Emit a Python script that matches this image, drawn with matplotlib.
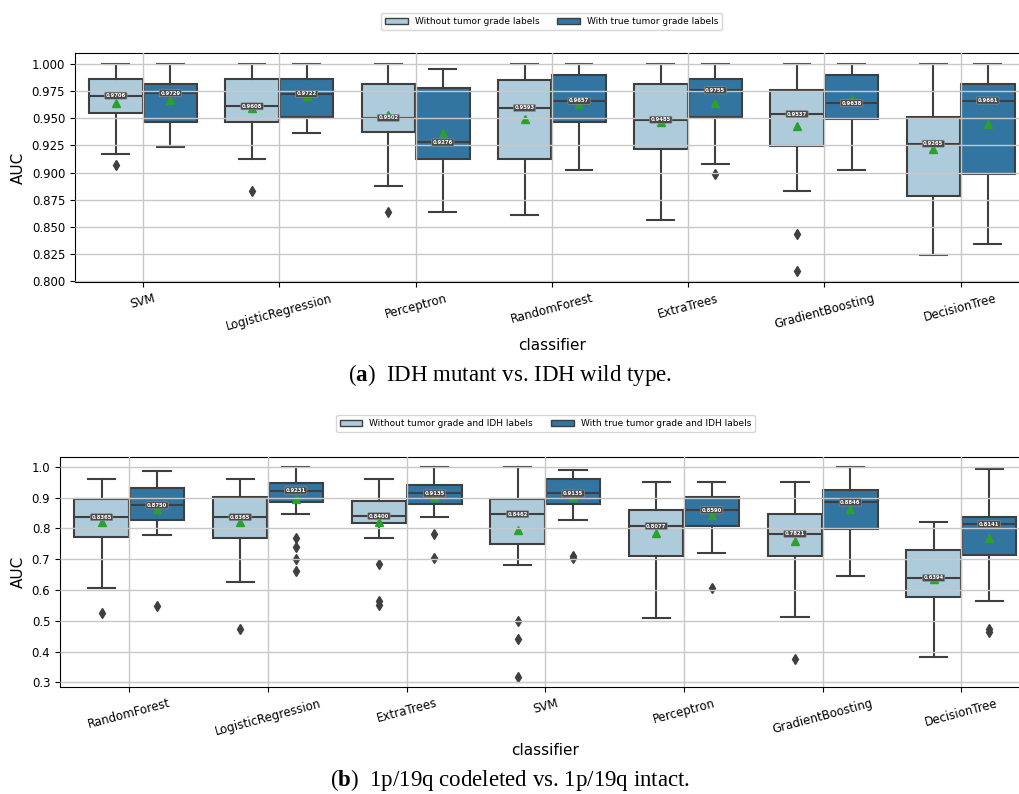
import numpy as np
import matplotlib.pyplot as plt

plt.rcParams['mathtext.fontset'] = 'custom'
plt.rcParams['mathtext.rm'] = 'Liberation Serif'
plt.rcParams['mathtext.bf'] = 'Liberation Serif:bold'

# IDH mutant vs. IDH wild type
clf_a = ['SVM', 'LogisticRegression', 'Perceptron', 'RandomForest',
         'ExtraTrees', 'GradientBoosting', 'DecisionTree']
a_without = dict(
    lo=[0.9169, 0.9122, 0.8881, 0.8613, 0.8564, 0.8829, 0.8244],
    q1=[0.9549, 0.9463, 0.9369, 0.9122, 0.9220, 0.9247, 0.8784],
    med=[0.9706, 0.9608, 0.9502, 0.9593, 0.9485, 0.9537, 0.9265],
    q3=[0.9860, 0.9863, 0.9817, 0.9850, 0.9814, 0.9756, 0.9512],
    hi=[1.0, 1.0, 1.0, 1.0, 1.0, 1.0, 1.0],
    mean=[0.9643, 0.9590, 0.9530, 0.9491, 0.9466, 0.9424, 0.9213],
    fliers=[[0.9073], [0.8829], [0.8637], [], [], [0.8439, 0.8100], []],
)
a_with = dict(
    lo=[0.9238, 0.9366, 0.8637, 0.9024, 0.9076, 0.9024, 0.8345],
    q1=[0.9463, 0.9509, 0.9122, 0.9463, 0.9512, 0.9494, 0.8991],
    med=[0.9729, 0.9722, 0.9276, 0.9657, 0.9755, 0.9638, 0.9661],
    q3=[0.9817, 0.9863, 0.9774, 0.9899, 0.9860, 0.9899, 0.9817],
    hi=[1.0, 1.0, 0.9948, 1.0, 1.0, 1.0, 1.0],
    mean=[0.9665, 0.9704, 0.9363, 0.9631, 0.9643, 0.9674, 0.9448],
    fliers=[[], [], [], [], [0.8985], [], []],
)

# 1p/19q codeleted vs. 1p/19q intact
clf_b = ['RandomForest', 'LogisticRegression', 'ExtraTrees', 'SVM',
         'Perceptron', 'GradientBoosting', 'DecisionTree']
b_without = dict(
    lo=[0.6057, 0.6273, 0.7699, 0.6802, 0.5096, 0.5128, 0.3810],
    q1=[0.7710, 0.7699, 0.8164, 0.7494, 0.7116, 0.7116, 0.5776],
    med=[0.8365, 0.8365, 0.8400, 0.8462, 0.8077, 0.7821, 0.6394],
    q3=[0.8963, 0.9028, 0.8898, 0.8941, 0.8596, 0.8455, 0.7299],
    hi=[0.9600, 0.9611, 0.9611, 1.0, 0.9514, 0.9514, 0.8218],
    mean=[0.8207, 0.8207, 0.8207, 0.7937, 0.7839, 0.7602, 0.6360],
    fliers=[[0.5268], [0.4717], [0.6856, 0.5647, 0.5517],
            [0.5009, 0.4415, 0.3184], [], [0.3756], []],
)
b_with = dict(
    lo=[0.7796, 0.8455, 0.8369, 0.8272, 0.7202, 0.6457, 0.5657],
    q1=[0.8261, 0.8844, 0.8790, 0.8790, 0.8077, 0.7991, 0.7126],
    med=[0.8750, 0.9231, 0.9135, 0.9135, 0.8590, 0.8846, 0.8141],
    q3=[0.9298, 0.9481, 0.9417, 0.9611, 0.9028, 0.9233, 0.8358],
    hi=[0.9870, 1.0, 1.0, 0.9892, 0.9514, 1.0, 0.9946],
    mean=[0.8617, 0.8940, 0.9006, 0.9028, 0.8423, 0.8639, 0.7699],
    fliers=[[0.5485], [0.7700, 0.7407, 0.6997, 0.6630], [0.7807, 0.7029],
            [0.7116, 0.7029], [0.6057], [], [0.4728, 0.4620]],
)

light = '#adcbdb'
dark = '#3275a1'
line = '#3f3f3f'


def draw_boxes(ax, stats, offset, color):
    n = len(stats['med'])
    pos = np.arange(n) + offset
    bstats = []
    for i in range(n):
        bstats.append(dict(med=stats['med'][i], q1=stats['q1'][i], q3=stats['q3'][i],
                           whislo=stats['lo'][i], whishi=stats['hi'][i],
                           mean=stats['mean'][i], fliers=stats['fliers'][i]))
    ax.bxp(bstats, positions=pos, widths=0.392, patch_artist=True,
           showmeans=True, manage_ticks=False,
           boxprops=dict(facecolor=color, edgecolor=line, linewidth=1.5),
           whiskerprops=dict(color=line, linewidth=1.5),
           capprops=dict(color=line, linewidth=1.5),
           medianprops=dict(color=line, linewidth=1.5),
           flierprops=dict(marker='d', markerfacecolor=line, markeredgecolor=line,
                           markersize=5),
           meanprops=dict(marker='^', markerfacecolor='#2ca02c',
                          markeredgecolor='#2ca02c', markersize=6))
    # median value tag on each box
    for x, m in zip(pos, stats['med']):
        ax.text(x, m, f'{m:.4f}', ha='center', va='center', fontsize=3.8,
                color='white', fontweight='bold', zorder=5,
                bbox=dict(boxstyle='round,pad=0.2', fc='#4a4a4a', ec='#9a9a9a', lw=0.4))


def panel(ax, names, without, withh, labels, leg_y):
    draw_boxes(ax, without, -0.2, light)
    draw_boxes(ax, withh, 0.2, dark)
    ax.set_xlim(-0.5, len(names) - 0.5)
    ax.set_xticks(np.arange(len(names)))
    ax.set_xticklabels(names, rotation=15, fontsize=8.5)
    ax.tick_params(axis='y', labelsize=8.5)
    ax.grid(True, color='#c8c8c8', linewidth=1)
    ax.set_axisbelow(False)
    ax.set_xlabel('classifier', fontsize=11)
    ax.set_ylabel('AUC', fontsize=11)
    handles = [plt.Rectangle((0, 0), 1, 1, fc=light, ec=line, lw=1),
               plt.Rectangle((0, 0), 1, 1, fc=dark, ec=line, lw=1)]
    ax.legend(handles, labels, loc='center', bbox_to_anchor=(0.5, leg_y), ncol=2,
              fontsize=6.5, frameon=True, handlelength=2.5, columnspacing=2)


fig = plt.figure(figsize=(10.2, 7.94), dpi=100)
ax1 = fig.add_axes([0.0735, 0.6448, 0.935, 0.2881])
ax2 = fig.add_axes([0.0588, 0.1348, 0.9517, 0.29])

panel(ax1, clf_a, a_without, a_with,
      ['Without tumor grade labels', 'With true tumor grade labels'], 1.139)
ax1.set_ylim(0.7995, 1.0095)
ax1.set_yticks(np.arange(0.8, 1.001, 0.025))
ax1.yaxis.set_major_formatter(plt.FormatStrFormatter('%.3f'))
panel(ax2, clf_b, b_without, b_with,
      ['Without tumor grade and IDH labels', 'With true tumor grade and IDH labels'], 1.144)
ax2.set_ylim(0.285, 1.033)

cap = dict(ha='center', va='center', fontsize=16.5, family='Liberation Serif')
fig.text(0.5, 1 - 375 / 794, r'($\mathbf{a}$)  IDH mutant vs. IDH wild type.', **cap)
fig.text(0.5, 1 - 780 / 794, r'($\mathbf{b}$)  1p/19q codeleted vs. 1p/19q intact.', **cap)

fig.savefig('out.png', dpi=100)
